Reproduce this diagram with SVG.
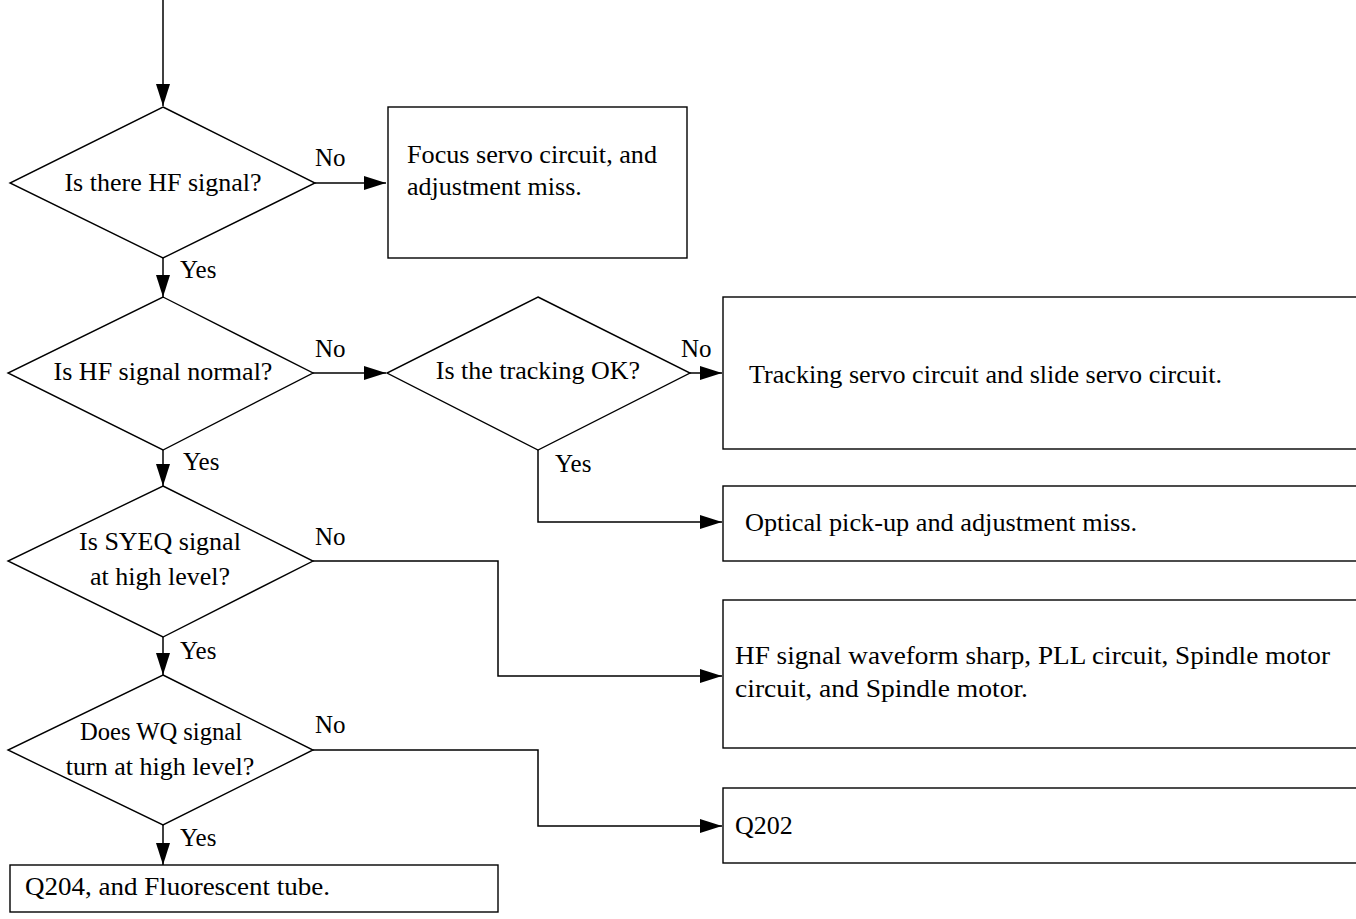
<svg xmlns="http://www.w3.org/2000/svg" width="1356" height="919" viewBox="0 0 1356 919">
<style>
.shape{fill:#fff;stroke:#000;stroke-width:1.4}
.conn{fill:none;stroke:#000;stroke-width:1.5}
text{font-family:"Liberation Serif","Times New Roman",serif;font-size:26px;fill:#000}
.lbl{font-size:25px}
.c{text-anchor:middle}
</style>
<defs>
<marker id="ah" markerUnits="userSpaceOnUse" markerWidth="22" markerHeight="14" refX="22" refY="7" orient="auto">
<path d="M0,0 L22,7 L0,14 z" fill="#000"/>
</marker>
</defs>
<rect width="1356" height="919" fill="#fff"/>
<g id="connectors">
<path class="conn" d="M163,0 V106" marker-end="url(#ah)"/>
<path class="conn" d="M315,183 H386" marker-end="url(#ah)"/>
<path class="conn" d="M163,258 V297" marker-end="url(#ah)"/>
<path class="conn" d="M313,373 H386" marker-end="url(#ah)"/>
<path class="conn" d="M690,373 H722" marker-end="url(#ah)"/>
<path class="conn" d="M538,450 V522 H722" marker-end="url(#ah)"/>
<path class="conn" d="M163,450 V486" marker-end="url(#ah)"/>
<path class="conn" d="M313,561 H498 V676 H722" marker-end="url(#ah)"/>
<path class="conn" d="M163,637 V675" marker-end="url(#ah)"/>
<path class="conn" d="M313,750 H538 V826 H722" marker-end="url(#ah)"/>
<path class="conn" d="M163,825 V865" marker-end="url(#ah)"/>
<text class="lbl" x="315" y="166">No</text>
<text class="lbl" x="180" y="278">Yes</text>
<text class="lbl" x="315" y="357">No</text>
<text class="lbl" x="681" y="357">No</text>
<text class="lbl" x="183" y="470">Yes</text>
<text class="lbl" x="555" y="472">Yes</text>
<text class="lbl" x="315" y="545">No</text>
<text class="lbl" x="180" y="659">Yes</text>
<text class="lbl" x="315" y="733">No</text>
<text class="lbl" x="180" y="846">Yes</text>
</g>
<g id="d1">
<polygon class="shape" points="163,107 315,183 163,258 10,183"/>
<text class="c" x="163" y="191">Is there HF signal?</text>
</g>
<g id="box1">
<rect class="shape" x="388" y="107" width="299" height="151"/>
<text x="407" y="163" textLength="250" lengthAdjust="spacingAndGlyphs">Focus servo circuit, and</text>
<text x="407" y="195">adjustment miss.</text>
</g>
<g id="d2">
<polygon class="shape" points="163,297 313,373 163,450 8,373"/>
<text class="c" x="163" y="380">Is HF signal normal?</text>
</g>
<g id="d3">
<polygon class="shape" points="538,297 690,373 538,450 387,373"/>
<text class="c" x="538" y="379">Is the tracking OK?</text>
</g>
<g id="box-tracking">
<rect class="shape" x="723" y="297" width="640" height="152"/>
<text x="749" y="383" textLength="473" lengthAdjust="spacingAndGlyphs">Tracking servo circuit and slide servo circuit.</text>
</g>
<g id="box-optical">
<rect class="shape" x="723" y="486" width="640" height="75"/>
<text x="745" y="531" textLength="392" lengthAdjust="spacingAndGlyphs">Optical pick-up and adjustment miss.</text>
</g>
<g id="d4">
<polygon class="shape" points="163,486 313,561 163,637 8,561"/>
<text class="c" x="160" y="550">Is SYEQ signal</text>
<text class="c" x="160" y="585">at high level?</text>
</g>
<g id="box-hf">
<rect class="shape" x="723" y="600" width="640" height="148"/>
<text x="735" y="664" textLength="595" lengthAdjust="spacingAndGlyphs">HF signal waveform sharp, PLL circuit, Spindle motor</text>
<text x="735" y="697" textLength="293" lengthAdjust="spacingAndGlyphs">circuit, and Spindle motor.</text>
</g>
<g id="d5">
<polygon class="shape" points="163,675 313,750 163,825 8,750"/>
<text class="c" x="161" y="740" textLength="162" lengthAdjust="spacingAndGlyphs">Does WQ signal</text>
<text class="c" x="160" y="775">turn at high level?</text>
</g>
<g id="box-q202">
<rect class="shape" x="723" y="788" width="640" height="75"/>
<text x="735" y="834">Q202</text>
</g>
<g id="box-q204">
<rect class="shape" x="10" y="865" width="488" height="47"/>
<text x="25" y="895" textLength="305" lengthAdjust="spacingAndGlyphs">Q204, and Fluorescent tube.</text>
</g>
</svg>
